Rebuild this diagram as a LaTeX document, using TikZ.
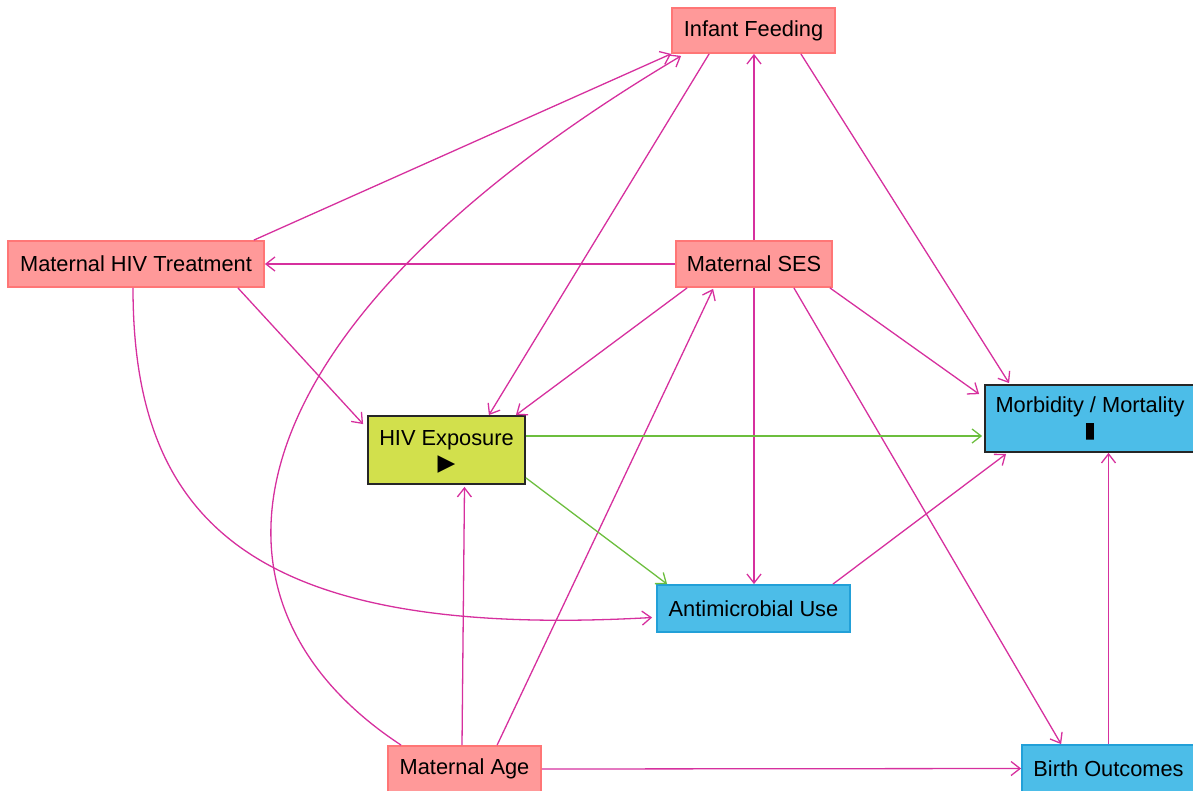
\documentclass[tikz,border=0pt]{standalone}
\usepackage{fontspec}
\setmainfont{Liberation Sans}
\newfontfamily\symfont{DejaVu Sans}
\usetikzlibrary{arrows.meta,calc}
\definecolor{edgepink}{RGB}{214,48,158}
\definecolor{edgegreen}{RGB}{108,190,62}
\definecolor{pinkfill}{RGB}{255,153,153}
\definecolor{pinkdraw}{RGB}{255,118,118}
\definecolor{bluefill}{RGB}{76,189,232}
\definecolor{bluedraw}{RGB}{34,160,216}
\definecolor{limefill}{RGB}{210,224,76}
\begin{document}
\begin{tikzpicture}[x=0.5pt,y=-0.5pt,
  box/.style={rectangle, inner sep=0pt, font=\fontsize{10.9}{12.5}\selectfont, align=center, line width=0.9pt},
  conf/.style={box, fill=pinkfill, draw=pinkdraw},
  outc/.style={box, fill=bluefill, draw=bluedraw},
  expo/.style={box, draw=black!85},
  edge/.style={draw=edgepink, line width=0.65pt, -{Straight Barb[length=4.5pt,width=7pt]}},
  gedge/.style={edge, draw=edgegreen},
]
\useasboundingbox (0,0) rectangle (1193,791);
\node[conf, minimum width=81.5pt, minimum height=22.5pt] (ife) at (753.5,30.5) {Infant Feeding};
\node[conf, minimum width=128pt, minimum height=23pt] (mht) at (136,264) {Maternal HIV Treatment};
\node[conf, minimum width=78pt, minimum height=23pt] (ses) at (754,264) {Maternal SES};
\node[expo, fill=limefill, minimum width=78.5pt, minimum height=34pt, text depth=-1.5pt] (hiv) at (446.5,450) {HIV Exposure\\[0pt]{\symfont\fontsize{11.5}{12}\selectfont ▶}};
\node[outc, draw=black!85, minimum width=105pt, minimum height=33.5pt] (mm) at (1090,418.5) {Morbidity / Mortality\\[0pt]{\symfont ▮}};
\node[outc, minimum width=96.5pt, minimum height=23.5pt] (amu) at (753.5,608.5) {Antimicrobial Use};
\node[conf, minimum width=76.5pt, minimum height=23pt] (age) at (464.5,769) {Maternal Age};
\node[outc, minimum width=86.5pt, minimum height=23.5pt] (bo) at (1108.5,768.5) {Birth Outcomes};

\draw[edge] ($(mht.north east)+(-11,0)$) -- (ife.south west);
\draw[edge] ($(age.north west)+(14,0)$) .. controls (180,600) and (220,330) .. ($(ife.south west)+(10,2)$);
\draw[edge] ($(ife.south west)+(38,0)$) -- ($(hiv.north east)+(-37,0)$);
\draw[edge] (ses.north) -- (ses.north |- ife.south);
\draw[edge] ($(ife.south east)+(-35,0)$) -- ($(mm.north west)+(25,-1)$);
\draw[edge] (ses.west) -- (mht.east);
\draw[edge] ($(mht.south east)+(-27,0)$) -- ($(hiv.north west)+(-4,9)$);
\draw[edge] ($(mht.south)+(-3,0)$) .. controls (133,520) and (250,640) .. ($(amu.west)+(-4,9)$);
\draw[edge] ($(ses.south west)+(12,0)$) -- ($(hiv.north east)+(-10,0)$);
\draw[edge] ($(age.north west)+(110,0)$) -- ($(ses.south west)+(38,1)$);
\draw[edge] (ses.south) -- (ses.south |- amu.north);
\draw[edge] ($(ses.south east)+(-39,0)$) -- ($(bo.north west)+(40,0)$);
\draw[edge] ($(ses.south east)+(-3,0)$) -- ($(mm.north west)+(-5,10)$);
\draw[gedge] ($(hiv.east)+(0,-14)$) -- ($(mm.west)+(-2,17.5)$);
\draw[gedge] ($(hiv.south east)+(0,-7)$) -- ($(amu.north west)+(11,0)$);
\draw[edge] ($(amu.north east)+(-18,0)$) -- ($(mm.south west)+(22,1)$);
\draw[edge] (bo.north) -- (bo.north |- mm.south);
\draw[edge] ($(age.north)+(-2.5,0)$) -- ($(hiv.south)+(18,2)$);
\draw[edge] (age.east) -- (bo.west);
\end{tikzpicture}
\end{document}
